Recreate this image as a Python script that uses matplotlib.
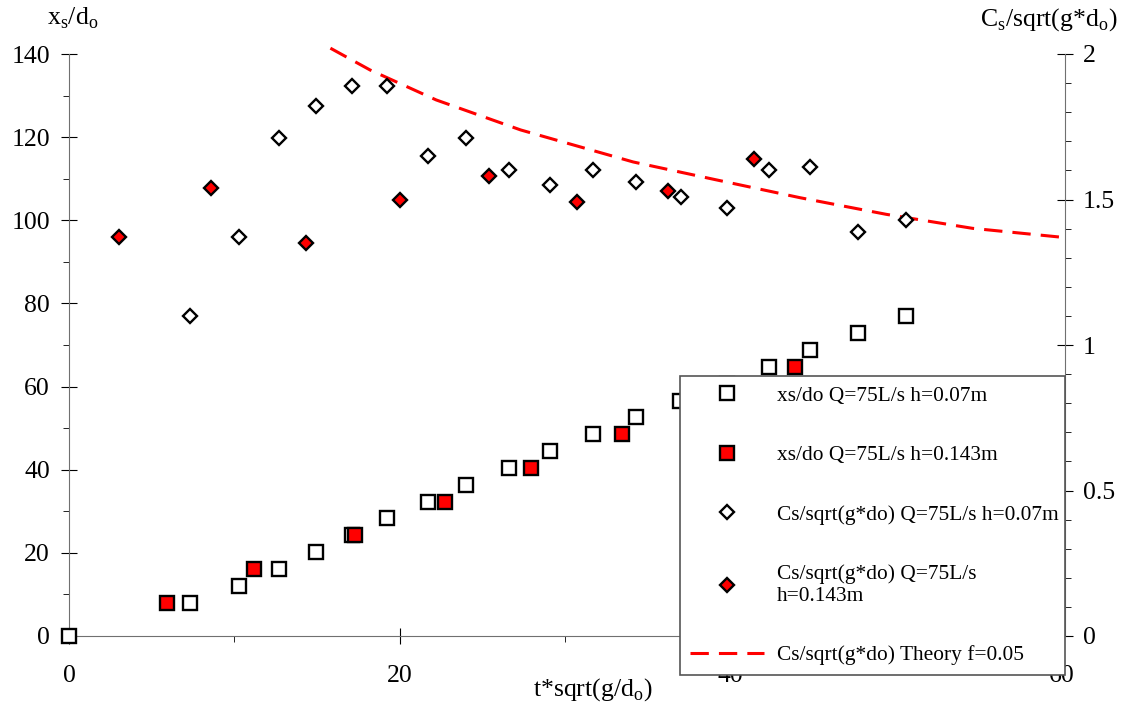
import numpy as np
import matplotlib
matplotlib.use("Agg")
import matplotlib.pyplot as plt
from matplotlib.ticker import MultipleLocator

plt.rcParams['font.family'] = ['Liberation Serif', 'DejaVu Serif']
plt.rcParams['mathtext.fontset'] = 'custom'
plt.rcParams['mathtext.rm'] = 'Liberation Serif'

# xs/do, h = 0.07 m
t_open = [0, 7.3, 10.3, 12.7, 14.9, 17.1, 19.2, 21.7, 24.0, 26.6, 29.1, 31.7, 34.3,
          36.9, 39.8, 42.3, 44.8, 47.7, 50.6]
xs_open = [0, 8.0, 12.1, 16.2, 20.2, 24.2, 28.3, 32.3, 36.4, 40.4, 44.5, 48.5, 52.6,
           56.6, 60.7, 64.7, 68.8, 72.8, 76.9]

# xs/do, h = 0.143 m
t_red = [5.9, 11.2, 17.3, 22.7, 27.9, 33.4, 38.7, 43.9]
xs_red = [8.0, 16.2, 24.2, 32.3, 40.4, 48.5, 56.6, 64.7]

# Cs/sqrt(g*do), h = 0.07 m
tc_open = [7.3, 10.3, 12.7, 14.9, 17.1, 19.2, 21.7, 24.0, 26.6, 29.1, 31.7, 34.3,
           37.0, 39.8, 42.3, 44.8, 47.7, 50.6]
cs_open = [1.10, 1.37, 1.71, 1.82, 1.89, 1.89, 1.65, 1.71, 1.60, 1.55, 1.60, 1.56,
           1.51, 1.47, 1.60, 1.61, 1.39, 1.43]

# Cs/sqrt(g*do), h = 0.143 m
tc_red = [3.0, 8.6, 14.3, 20.0, 25.4, 30.7, 36.2, 41.4]
cs_red = [1.37, 1.54, 1.35, 1.50, 1.58, 1.49, 1.53, 1.64]

# theory f = 0.05
t_th = [15.8, 18.2, 22.2, 27.3, 34.1, 39.0, 44.2, 49.4, 54.6, 60.4]
cs_th = [2.02, 1.945, 1.842, 1.739, 1.629, 1.569, 1.506, 1.449, 1.401, 1.368]

labels = ["xs/do Q=75L/s h=0.07m",
          "xs/do Q=75L/s h=0.143m",
          "Cs/sqrt(g*do) Q=75L/s h=0.07m",
          "Cs/sqrt(g*do) Q=75L/s\nh=0.143m",
          "Cs/sqrt(g*do) Theory f=0.05"]

W, H = 1124, 711
fig = plt.figure(figsize=(W / 100, H / 100), dpi=100)
ax = fig.add_axes([69 / W, 1 - 636 / H, (1065 - 69) / W, (636 - 54) / H])
ax2 = ax.twinx()

spine_col = '#707070'
for s in ['top', 'right']:
    ax.spines[s].set_visible(False)
for s in ['top', 'left', 'bottom']:
    ax2.spines[s].set_visible(False)
ax.spines['left'].set_color(spine_col)
ax.spines['bottom'].set_color(spine_col)
ax2.spines['right'].set_color(spine_col)

ax.set_xlim(0, 60.2)
ax.set_ylim(0, 140)
ax2.set_ylim(0, 2)

ax.xaxis.set_major_locator(MultipleLocator(20))
ax.xaxis.set_minor_locator(MultipleLocator(10))
ax.yaxis.set_major_locator(MultipleLocator(20))
ax.yaxis.set_minor_locator(MultipleLocator(10))
ax2.yaxis.set_major_locator(MultipleLocator(0.5))
ax2.yaxis.set_minor_locator(MultipleLocator(0.1))
ax2.yaxis.set_major_formatter(lambda v, p: '%g' % v)

ax.tick_params(axis='x', which='major', direction='inout', length=11.5, pad=15, labelsize=18.5)
ax.tick_params(axis='y', which='major', direction='inout', length=11.5, pad=8, labelsize=18.5)
ax.tick_params(which='minor', direction='out', length=4.5)
ax2.tick_params(axis='y', which='major', direction='inout', length=11.5, pad=7, labelsize=18.5)
ax2.tick_params(axis='y', which='minor', direction='out', length=4.5)

msq = dict(marker='s', ms=10, mew=1.7, mec='black', ls='none', clip_on=False)
mdi = dict(marker='D', ms=7.6, mew=1.7, mec='black', ls='none', clip_on=False)

h1, = ax.plot(t_open, xs_open, mfc='white', zorder=3, **msq)
h2, = ax.plot(t_red, xs_red, mfc='red', zorder=4, **msq)
h3, = ax2.plot(tc_open, cs_open, mfc='white', zorder=3, **mdi)
h4, = ax2.plot(tc_red, cs_red, mfc='red', zorder=4, **mdi)
h5, = ax2.plot(t_th, cs_th, color='red', lw=2.2, dashes=(6, 3.3), clip_on=False, zorder=2)

leg = ax2.legend([h1, h2, h3, h4, h5], labels, loc='lower left',
                 bbox_to_anchor=(680 / W, 1 - 675 / H, (1065 - 680) / W, 0.3),
                 bbox_transform=fig.transFigure, mode='expand',
                 fontsize=15.4, frameon=True, fancybox=False, framealpha=1,
                 edgecolor='#555555', borderaxespad=0, borderpad=0.45,
                 handlelength=3.5, handletextpad=0.6, labelspacing=1.85)
leg.get_frame().set_linewidth(1.2)
leg.set_zorder(10)

fig.text(47 / W, 1 - 18 / H, r'x$_\mathregular{s}$/d$_\mathregular{o}$',
         fontsize=18.5, ha='left', va='center')
fig.text(1118 / W, 1 - 20 / H, r'C$_\mathregular{s}$/sqrt(g*d$_\mathregular{o}$)',
         fontsize=18.5, ha='right', va='center')
fig.text(593 / W, 1 - 690 / H, r't*sqrt(g/d$_\mathregular{o}$)',
         fontsize=18.5, ha='center', va='center')

fig.savefig('out.png', dpi=100)
